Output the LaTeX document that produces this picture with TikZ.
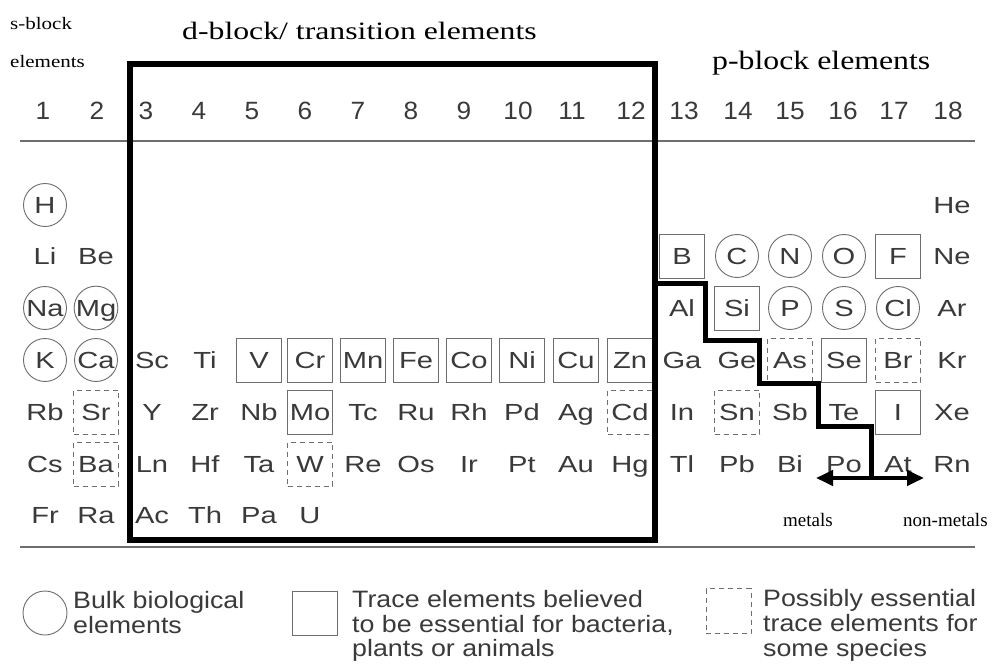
\documentclass[tikz,border=0pt]{standalone}
\usepackage{fontspec}
\setmainfont{Liberation Serif}
\setsansfont{Liberation Sans}
\usepackage{graphicx}
\usetikzlibrary{arrows.meta}
\definecolor{ink}{HTML}{3A3A3A}
\definecolor{rulec}{HTML}{6E6E6E}
\newcommand\hsx[2]{\scalebox{#1}[1]{#2}}
\begin{document}
\begin{tikzpicture}[x=1bp,y=-1bp,
  elt/.style={inner sep=0pt, text height=16.7bp, text depth=0pt,
    font=\sffamily\fontsize{23.3bp}{28bp}\selectfont, text=ink,
    minimum width=45bp, minimum height=44bp},
  plain/.style={},
  circ/.style={circle, draw=rulec, line width=0.9bp, minimum size=43bp},
  sq/.style={rectangle, draw=rulec, line width=0.9bp},
  dsq/.style={rectangle, draw=rulec, line width=0.9bp, dash pattern=on 5bp off 4bp},
  hdr/.style={anchor=base, inner sep=0pt, text=ink, font=\sffamily\fontsize{25bp}{30bp}\selectfont},
  ttl/.style={anchor=base west, inner sep=0pt, text=black},
  leg/.style={anchor=base west, inner sep=0pt, text=ink, font=\sffamily\fontsize{23.7bp}{28bp}\selectfont},
  thick line/.style={line width=6bp, line join=miter, line cap=rect},
  rule line/.style={draw=rulec, line width=1.5bp}
]
\useasboundingbox (0,0) rectangle (998,664);
\fill[white] (0,0) rectangle (998,664);

% titles
\node[ttl, font=\fontsize{17.5bp}{20bp}\selectfont] (sb1) at (10,30) {\hsx{1.2}{s-block}};
\node[ttl, font=\fontsize{17.5bp}{20bp}\selectfont] (sb2) at (10,68) {\hsx{1.2}{elements}};
\node[ttl, font=\fontsize{25bp}{30bp}\selectfont] (dt) at (182,40) {\hsx{1.27}{d-block/ transition elements}};
\node[ttl, font=\fontsize{26.5bp}{30bp}\selectfont] (pt) at (712,70) {\hsx{1.2}{p-block elements}};

% group numbers
\foreach \x/\n in {43/1,97/2,146/3,199/4,252/5,305/6,358/7,411/8,464/9,518/10,572/11,631/12,684/13,738/14,790/15,843/16,894/17,948/18}
  \node[hdr] (g\n) at (\x,120) {\hsx{1.05}{\n}};

% rules
\coordinate (r1a) at (20,141); \coordinate (r1b) at (975,141);
\coordinate (r2a) at (20,547); \coordinate (r2b) at (975,547);
\draw[rule line] (r1a) -- (r1b);
\draw[rule line] (r2a) -- (r2b);

% elements
\foreach \x/\s/\t in {45/H/circ,952/He/plain}
  \node[elt,\t] (e-\s) at (\x,205) {\hsx{1.25}{\s}};
\foreach \x/\s/\t in {45/Li/plain,96/Be/plain,682/B/sq,737/C/circ,790/N/circ,844/O/circ,898/F/sq,952/Ne/plain}
  \node[elt,\t] (e-\s) at (\x,256) {\hsx{1.25}{\s}};
\foreach \x/\s/\t in {45/Na/circ,96/Mg/circ,682/Al/plain,737/Si/sq,790/P/circ,844/S/circ,898/Cl/circ,952/Ar/plain}
  \node[elt,\t] (e-\s) at (\x,308) {\hsx{1.25}{\s}};
\foreach \x/\s/\t in {45/K/circ,96/Ca/circ,152/Sc/plain,205/Ti/plain,259/V/sq,310/Cr/sq,363/Mn/sq,416/Fe/sq,469/Co/sq,522/Ni/sq,576/Cu/sq,630/Zn/sq,682/Ga/plain,737/Ge/plain,790/As/dsq,844/Se/sq,898/Br/dsq,952/Kr/plain}
  \node[elt,\t] (e-\s) at (\x,360) {\hsx{1.25}{\s}};
\foreach \x/\s/\t in {45/Rb/plain,96/Sr/dsq,152/Y/plain,205/Zr/plain,259/Nb/plain,310/Mo/sq,363/Tc/plain,416/Ru/plain,469/Rh/plain,522/Pd/plain,576/Ag/plain,630/Cd/dsq,682/In/plain,737/Sn/dsq,790/Sb/plain,844/Te/plain,898/I/sq,952/Xe/plain}
  \node[elt,\t] (e-\s) at (\x,412) {\hsx{1.25}{\s}};
\foreach \x/\s/\t in {45/Cs/plain,96/Ba/dsq,152/Ln/plain,205/Hf/plain,259/Ta/plain,310/W/dsq,363/Re/plain,416/Os/plain,469/Ir/plain,522/Pt/plain,576/Au/plain,630/Hg/plain,682/Tl/plain,737/Pb/plain,790/Bi/plain,844/Po/plain,898/At/plain,952/Rn/plain}
  \node[elt,\t] (e-\s) at (\x,464) {\hsx{1.25}{\s}};
\foreach \x/\s/\t in {45/Fr/plain,96/Ra/plain,152/Ac/plain,205/Th/plain,259/Pa/plain,310/U/plain}
  \node[elt,\t] (e-\s) at (\x,515) {\hsx{1.25}{\s}};

% d-block frame
\coordinate (bx1) at (130,64); \coordinate (bx2) at (655,540);
\draw[thick line] (bx1) rectangle (bx2);

% metal / non-metal staircase
\coordinate (s0) at (655,283);
\coordinate (s1) at (705,283);
\coordinate (s2) at (705,340);
\coordinate (s3) at (759,340);
\coordinate (s4) at (759,383);
\coordinate (s5) at (818,383);
\coordinate (s6) at (818,426);
\coordinate (s7) at (871,426);
\coordinate (s8) at (871,478);
\draw[line width=5bp, line join=miter] (s0) -- (s1) -- (s2) -- (s3) -- (s4) -- (s5) -- (s6) -- (s7) -- (s8);
\coordinate (aL) at (816,478); \coordinate (aR) at (924,478);
\draw[line width=4bp, {Triangle[length=17bp,width=15bp]}-{Triangle[length=17bp,width=15bp]}] (aL) -- (aR);
\node[ttl, font=\fontsize{19bp}{22bp}\selectfont] (met) at (783,526) {metals};
\node[ttl, font=\fontsize{19bp}{22bp}\selectfont] (nmet) at (903,526) {non-metals};

% legend
\node[circle, draw=rulec, line width=0.9bp, minimum size=44bp, inner sep=0pt] (lc) at (45,613) {};
\node[leg] (lc1) at (73,608) {\hsx{1.13}{Bulk biological}};
\node[leg] (lc2) at (73,633) {\hsx{1.13}{elements}};
\node[rectangle, draw=rulec, line width=0.9bp, minimum width=45bp, minimum height=44bp, inner sep=0pt] (ls) at (314.5,613) {};
\node[leg] (ls1) at (352,607) {\hsx{1.13}{Trace elements believed}};
\node[leg] (ls2) at (352,632) {\hsx{1.13}{to be essential for bacteria,}};
\node[leg] (ls3) at (352,656) {\hsx{1.13}{plants or animals}};
\node[rectangle, draw=rulec, line width=0.9bp, dash pattern=on 5bp off 4bp, minimum width=45bp, minimum height=45bp, inner sep=0pt] (ld) at (728.5,611) {};
\node[leg] (ld1) at (763,606) {\hsx{1.13}{Possibly essential}};
\node[leg] (ld2) at (763,631) {\hsx{1.13}{trace elements for}};
\node[leg] (ld3) at (763,656) {\hsx{1.13}{some species}};
\end{tikzpicture}
\end{document}
